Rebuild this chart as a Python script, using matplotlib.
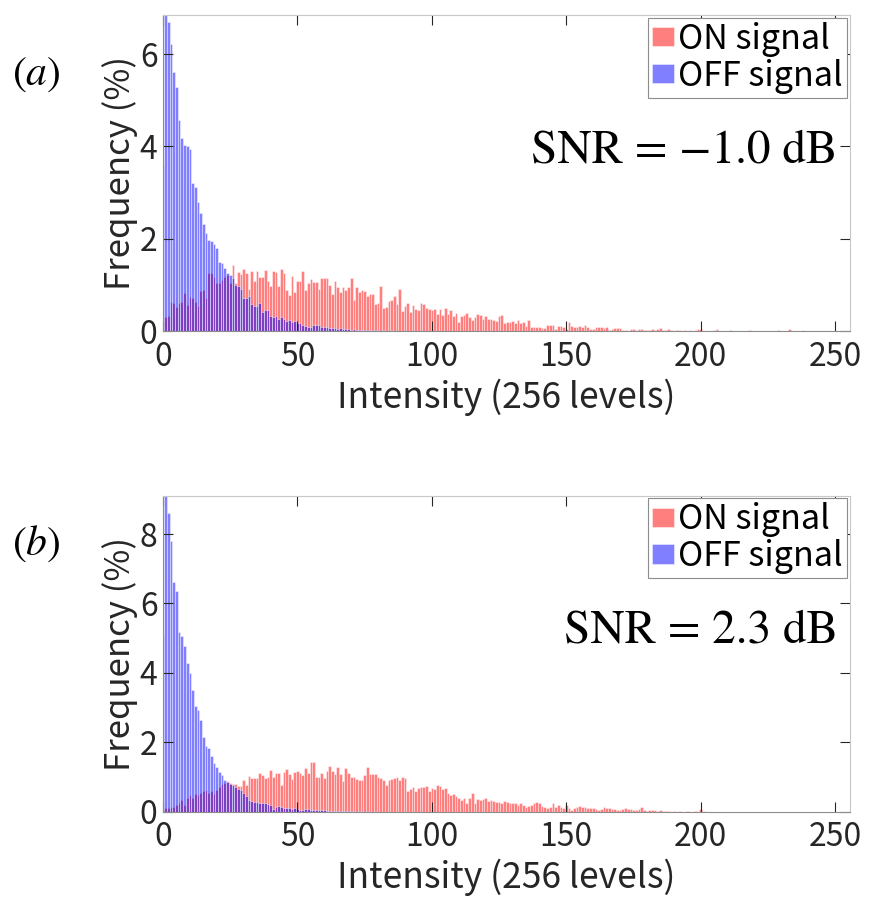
import matplotlib
matplotlib.use('Agg')
from matplotlib import pyplot as plt
import numpy as np

plt.rcParams['font.family'] = ['Noto Sans CJK JP', 'DejaVu Sans']
plt.rcParams['mathtext.fontset'] = 'stix'

# Histogram values (%) per intensity level 0..255
# (a) SNR = -1.0 dB
on_a = [
    0.31, 0.31, 0.33, 0.63, 0.60, 0.51, 0.60, 0.63, 0.83, 0.56, 0.73, 0.71, 0.63, 0.55, 0.87, 0.89,
    0.71, 1.25, 1.25, 1.18, 1.05, 1.03, 1.10, 1.18, 1.22, 1.03, 1.43, 1.03, 1.27, 1.23, 1.34, 1.25,
    0.90, 1.30, 1.09, 1.30, 1.16, 1.16, 1.32, 1.09, 0.97, 1.29, 1.27, 0.98, 1.34, 1.26, 0.89, 0.79,
    1.20, 0.85, 1.08, 1.08, 1.29, 0.89, 1.03, 1.12, 1.07, 1.07, 0.92, 1.14, 1.14, 1.14, 1.00, 0.80,
    1.09, 0.96, 0.85, 0.95, 0.89, 0.96, 1.14, 0.67, 0.95, 0.85, 0.89, 0.87, 0.76, 0.80, 0.80, 0.58,
    0.61, 0.97, 0.49, 0.53, 0.66, 0.67, 0.76, 0.58, 0.90, 0.44, 0.54, 0.60, 0.42, 0.56, 0.47, 0.45,
    0.60, 0.58, 0.49, 0.47, 0.45, 0.47, 0.37, 0.47, 0.35, 0.49, 0.36, 0.45, 0.32, 0.40, 0.20, 0.32,
    0.35, 0.40, 0.31, 0.24, 0.30, 0.37, 0.35, 0.27, 0.32, 0.25, 0.27, 0.24, 0.22, 0.32, 0.35, 0.18,
    0.20, 0.20, 0.22, 0.17, 0.24, 0.17, 0.20, 0.11, 0.24, 0.08, 0.08, 0.08, 0.08, 0.06, 0.06, 0.13,
    0.13, 0.13, 0.04, 0.11, 0.11, 0.08, 0.04, 0.19, 0.11, 0.08, 0.08, 0.11, 0.09, 0.13, 0.08, 0.04,
    0.04, 0.08, 0.08, 0.08, 0.06, 0.09, 0.02, 0.04, 0.07, 0.07, 0.06, 0.02, 0.02, 0.01, 0.04, 0.05,
    0.02, 0.04, 0.04, 0.02, 0.02, 0.02, 0.05, 0.02, 0.04, 0.06, 0.03, 0.02, 0.04, 0.02, 0.01, 0.03,
    0.02, 0.01, 0.03, 0.01, 0.02, 0.01, 0.02, 0.04, 0.05, 0.01, 0, 0.01, 0, 0.02, 0.05, 0.01,
    0, 0.01, 0, 0.03, 0, 0.01, 0, 0, 0.01, 0, 0.03, 0, 0, 0.01, 0, 0,
    0, 0, 0, 0, 0, 0.02, 0, 0, 0, 0.05, 0, 0, 0, 0, 0.02, 0,
    0, 0, 0, 0, 0, 0, 0.01, 0, 0, 0, 0, 0, 0, 0, 0, 0,
]
off_a = [
    3.60, 7.40, 6.70, 6.23, 5.62, 5.28, 4.58, 4.19, 4.04, 4.01, 3.94, 3.21, 3.13, 2.80, 2.56, 2.33,
    2.13, 1.97, 1.95, 1.88, 1.80, 1.50, 1.48, 1.36, 1.26, 1.22, 1.14, 1.00, 0.97, 0.90, 0.72, 0.71,
    0.76, 0.58, 0.55, 0.55, 0.60, 0.42, 0.45, 0.45, 0.32, 0.30, 0.32, 0.27, 0.30, 0.25, 0.22, 0.24,
    0.20, 0.21, 0.17, 0.18, 0.12, 0.11, 0.08, 0.08, 0.13, 0.13, 0.12, 0.08, 0.09, 0.08, 0.06, 0.07,
    0.06, 0.05, 0.06, 0.04, 0.05, 0.04, 0.03, 0.04, 0.03, 0.03, 0.02, 0.03, 0.02, 0.02, 0.03, 0.02,
    0.02, 0.01, 0.02, 0.01, 0.01, 0.02, 0.01, 0.01, 0.01, 0.01, 0.01, 0, 0.01, 0, 0.01, 0,
    0, 0, 0, 0, 0, 0, 0, 0, 0, 0, 0, 0, 0, 0, 0, 0,
    0, 0, 0, 0, 0, 0, 0, 0, 0, 0, 0, 0, 0, 0, 0, 0,
    0, 0, 0, 0, 0, 0, 0, 0, 0, 0, 0, 0, 0, 0, 0, 0,
    0, 0, 0, 0, 0, 0, 0, 0, 0, 0, 0, 0, 0, 0, 0, 0,
    0, 0, 0, 0, 0, 0, 0, 0, 0, 0, 0, 0, 0, 0, 0, 0,
    0, 0, 0, 0, 0, 0, 0, 0, 0, 0, 0, 0, 0, 0, 0, 0,
    0, 0, 0, 0, 0, 0, 0, 0, 0, 0, 0, 0, 0, 0, 0, 0,
    0, 0, 0, 0, 0, 0, 0, 0, 0, 0, 0, 0, 0, 0, 0, 0,
    0, 0, 0, 0, 0, 0, 0, 0, 0, 0, 0, 0, 0, 0, 0, 0,
    0, 0, 0, 0, 0, 0, 0, 0, 0, 0, 0, 0, 0, 0, 0, 0,
]

# (b) SNR = 2.3 dB
on_b = [
    0.10, 0.10, 0.10, 0.12, 0.14, 0.19, 0.24, 0.34, 0.20, 0.38, 0.48, 0.38, 0.50, 0.48, 0.55, 0.58,
    0.63, 0.55, 0.58, 0.52, 0.62, 0.72, 0.80, 0.82, 0.88, 0.82, 0.80, 0.80, 0.74, 0.74, 0.91, 0.77,
    1.03, 0.96, 0.97, 0.98, 1.11, 1.06, 0.98, 0.99, 1.20, 1.01, 1.12, 1.11, 0.77, 1.13, 1.23, 1.08,
    0.93, 1.15, 1.18, 1.11, 1.06, 1.27, 1.12, 1.44, 1.44, 0.99, 1.01, 1.12, 0.96, 1.17, 1.32, 1.18,
    1.09, 1.30, 1.08, 0.87, 1.25, 1.11, 1.01, 1.01, 0.93, 0.91, 0.91, 1.06, 1.30, 1.08, 1.08, 1.08,
    1.01, 0.96, 0.91, 0.77, 0.91, 0.93, 0.96, 0.99, 0.91, 1.01, 0.98, 0.58, 0.64, 0.72, 0.58, 0.67,
    0.70, 0.72, 0.74, 0.60, 0.67, 0.65, 0.77, 0.74, 0.64, 0.69, 0.53, 0.48, 0.50, 0.45, 0.40, 0.34,
    0.38, 0.26, 0.38, 0.53, 0.24, 0.36, 0.34, 0.36, 0.38, 0.31, 0.34, 0.31, 0.29, 0.29, 0.26, 0.32,
    0.29, 0.24, 0.26, 0.24, 0.19, 0.24, 0.19, 0.14, 0.16, 0.19, 0.24, 0.29, 0.24, 0.16, 0.14, 0.10,
    0.14, 0.24, 0.14, 0.18, 0.12, 0.10, 0.19, 0.10, 0.05, 0.10, 0.12, 0.16, 0.14, 0.12, 0.10, 0.10,
    0.10, 0.08, 0.05, 0.08, 0.14, 0.10, 0.10, 0.08, 0.07, 0.05, 0.05, 0.08, 0.10, 0.08, 0.07, 0.05,
    0.05, 0.07, 0.12, 0.05, 0.03, 0.05, 0.04, 0.04, 0.03, 0.04, 0.03, 0.01, 0.01, 0, 0.01, 0,
    0.01, 0, 0, 0.01, 0, 0, 0.01, 0, 0.07, 0.02, 0, 0, 0, 0, 0, 0,
    0, 0, 0, 0, 0, 0, 0, 0, 0, 0, 0, 0, 0, 0, 0, 0,
    0, 0, 0, 0, 0, 0, 0, 0, 0, 0, 0, 0, 0, 0, 0, 0,
    0, 0, 0, 0, 0, 0, 0, 0, 0, 0, 0, 0, 0, 0, 0, 0,
]
off_b = [
    5.10, 9.50, 8.61, 7.79, 6.61, 6.35, 5.19, 5.05, 4.76, 4.28, 3.99, 3.51, 3.05, 2.93, 2.64, 2.16,
    1.88, 1.83, 1.59, 1.39, 1.30, 1.15, 1.06, 0.91, 0.84, 0.80, 0.77, 0.72, 0.64, 0.61, 0.55, 0.45,
    0.34, 0.32, 0.29, 0.29, 0.24, 0.24, 0.24, 0.22, 0.19, 0.07, 0.14, 0.16, 0.14, 0.10, 0.10, 0.10,
    0.07, 0.09, 0.07, 0.05, 0.05, 0.07, 0.07, 0.05, 0.05, 0.05, 0.04, 0.04, 0.04, 0.03, 0.03, 0.02,
    0.03, 0.02, 0.02, 0.01, 0.02, 0.01, 0.01, 0.01, 0, 0.01, 0.01, 0, 0.01, 0, 0, 0.01,
    0, 0, 0, 0, 0, 0, 0, 0, 0, 0, 0, 0, 0, 0, 0, 0,
    0, 0, 0, 0, 0, 0, 0, 0, 0, 0, 0, 0, 0, 0, 0, 0,
    0, 0, 0, 0, 0, 0, 0, 0, 0, 0, 0, 0, 0, 0, 0, 0,
    0, 0, 0, 0, 0, 0, 0, 0, 0, 0, 0, 0, 0, 0, 0, 0,
    0, 0, 0, 0, 0, 0, 0, 0, 0, 0, 0, 0, 0, 0, 0, 0,
    0, 0, 0, 0, 0, 0, 0, 0, 0, 0, 0, 0, 0, 0, 0, 0,
    0, 0, 0, 0, 0, 0, 0, 0, 0, 0, 0, 0, 0, 0, 0, 0,
    0, 0, 0, 0, 0, 0, 0, 0, 0, 0, 0, 0, 0, 0, 0, 0,
    0, 0, 0, 0, 0, 0, 0, 0, 0, 0, 0, 0, 0, 0, 0, 0,
    0, 0, 0, 0, 0, 0, 0, 0, 0, 0, 0, 0, 0, 0, 0, 0,
    0, 0, 0, 0, 0, 0, 0, 0, 0, 0, 0, 0, 0, 0, 0, 0,
]

xticks = [0, 50, 100, 150, 200, 250]
labels = ['ON signal', 'OFF signal']
snr_a = 'SNR = \u22121.0 dB'
snr_b = 'SNR = 2.3 dB'

ON_COLOR = (1.0, 0.0, 0.0, 0.5)
OFF_COLOR = (0.0, 0.0, 1.0, 0.5)
EDGE = (1.0, 1.0, 1.0, 0.6)


def panel(ax, on, off, ymax, yticks, snr):
    ax.bar(np.arange(len(on)), on, width=1.0, color=ON_COLOR,
           edgecolor=EDGE, linewidth=0.5, label=labels[0])
    ax.bar(np.arange(len(off)), off, width=1.0, color=OFF_COLOR,
           edgecolor=EDGE, linewidth=0.5, label=labels[1])
    ax.set_xlim(0, 255.5)
    ax.set_ylim(0, ymax)
    ax.set_xticks(xticks)
    ax.set_yticks(yticks)
    ax.tick_params(direction='in', length=7, width=0.8, top=True, right=True,
                   labelsize=23, colors='#262626', labelcolor='#262626')
    ax.tick_params(axis='x', pad=7)
    ax.tick_params(axis='y', pad=4)
    for s in ['left', 'bottom']:
        ax.spines[s].set_color('#8c8c8c')
    for s in ['top', 'right']:
        ax.spines[s].set_color('#c8c8c8')
    ax.set_xlabel('Intensity (256 levels)', fontsize=25.5, color='#262626',
                  labelpad=4)
    ax.set_ylabel('Frequency (%)', fontsize=25, color='#262626', labelpad=1)
    leg = ax.legend(loc='upper right', fontsize=24.5, frameon=True, fancybox=False,
                    edgecolor='#8c8c8c', framealpha=1, borderpad=0.12,
                    borderaxespad=0.08, handlelength=0.65, handleheight=0.5,
                    handletextpad=0.12, labelspacing=0.05)
    leg.get_frame().set_linewidth(0.8)
    ax.text(0.982, 0.57, snr, transform=ax.transAxes, ha='right', va='center',
            fontsize=34, family='STIXGeneral', color='black')


fig = plt.figure(figsize=(8.74, 8.98), dpi=100)
ax1 = fig.add_axes([163 / 874, (898 - 331) / 898, 687 / 874, 316 / 898])
ax2 = fig.add_axes([163 / 874, (898 - 811.6) / 898, 687 / 874, 316 / 898])

panel(ax1, on_a, off_a, 6.85, [0, 2, 4, 6], snr_a)
panel(ax2, on_b, off_b, 9.11, [0, 2, 4, 6, 8], snr_b)

fig.text(36 / 874, 1 - 73 / 898, r'$(a)$', ha='center', va='center', fontsize=30)
fig.text(36 / 874, 1 - 543 / 898, r'$(b)$', ha='center', va='center', fontsize=30)

plt.savefig('out.png', dpi=100)
